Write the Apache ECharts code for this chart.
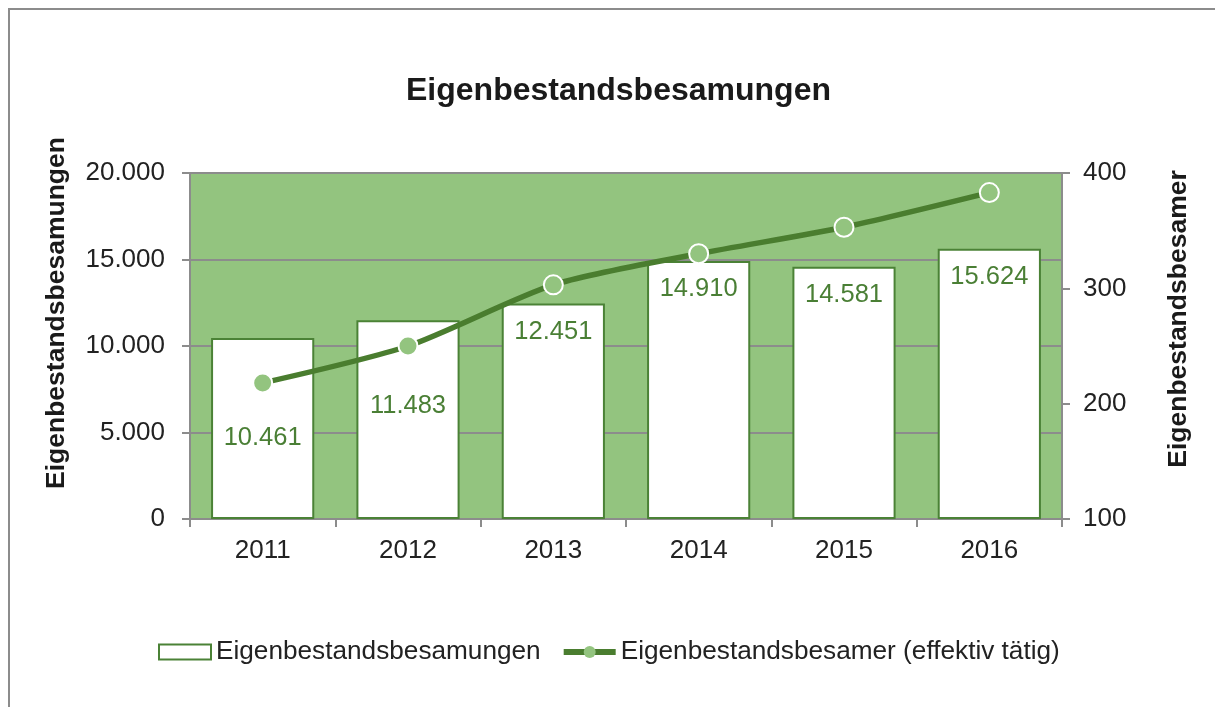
<!DOCTYPE html>
<html>
<head>
<meta charset="utf-8">
<script src="https://cdn.jsdelivr.net/npm/echarts@6/dist/echarts.min.js"></script>
<style>
html,body{margin:0;padding:0;background:#fff;}
#chart{width:1215px;height:707px;}
</style>
</head>
<body>
<div id="chart"></div>
<script>
const titleText = 'Eigenbestandsbesamungen';
const categories = ['2011', '2012', '2013', '2014', '2015', '2016'];
const besamungen = [10461, 11483, 12451, 14910, 14581, 15624];
const besamer = [218, 250, 303, 330, 353, 383];
const seriesNames = ['Eigenbestandsbesamungen', 'Eigenbestandsbesamer (effektiv tätig)'];
const leftAxisName = 'Eigenbestandsbesamungen';
const rightAxisName = 'Eigenbestandsbesamer';
// label adjustments (manual placement, as in the reference)
const labelShift = [72, 58, 0, 0, 0, 0];

const FONT = '"Liberation Sans", Arial, sans-serif';
const fmt = v => String(v).replace(/\B(?=(\d{3})+(?!\d))/g, '.');

const chart = echarts.init(document.getElementById('chart'), null, {renderer: 'canvas'});
chart.setOption({
  animation: false,
  backgroundColor: '#ffffff',
  textStyle: {fontFamily: FONT},
  graphic: [{
    type: 'rect', silent: true,
    shape: {x: 9, y: 9, width: 1400, height: 1000},
    style: {fill: 'none', stroke: '#8c8c8c', lineWidth: 2}
  }],
  title: {
    text: titleText, left: 401, top: 70,
    textStyle: {fontFamily: FONT, fontSize: 32, fontWeight: 'bold', color: '#1a1a1a'}
  },
  legend: {
    left: 153, top: 634,
    itemWidth: 52, itemHeight: 15, itemGap: 20,
    textStyle: {fontFamily: FONT, fontSize: 26.2, color: '#222'},
    data: [
      {name: seriesNames[0], icon: 'rect', itemStyle: {color: '#fff', borderColor: '#4b8236', borderWidth: 2}},
      {name: seriesNames[1], lineStyle: {width: 6, color: '#4a7d2f'}, itemStyle: {color: '#93c47f', borderWidth: 0}}
    ]
  },
  grid: {
    left: 190, right: 153, top: 173, bottom: 188,
    show: true, backgroundColor: '#93c47f', borderWidth: 0
  },
  xAxis: {
    type: 'category', data: categories,
    axisLine: {lineStyle: {color: '#8c8c8c', width: 2}},
    axisTick: {show: true, length: 8, lineStyle: {color: '#8c8c8c', width: 2}},
    axisLabel: {fontFamily: FONT, fontSize: 26, color: '#222', margin: 19}
  },
  yAxis: [{
    type: 'value', min: 0, max: 20000, interval: 5000,
    name: leftAxisName, nameLocation: 'middle', nameGap: 120, nameRotate: 90,
    nameTextStyle: {fontFamily: FONT, fontSize: 26.5, fontWeight: 'bold', color: '#1a1a1a', padding: [0, 0, 0, 66]},
    axisLine: {show: true, lineStyle: {color: '#8c8c8c', width: 2}},
    axisTick: {show: true, length: 8, lineStyle: {color: '#8c8c8c', width: 2}},
    axisLabel: {fontFamily: FONT, fontSize: 26, color: '#222', margin: 25, formatter: fmt},
    splitLine: {show: true, lineStyle: {color: '#8c8c8c', width: 2}}
  }, {
    type: 'value', min: 100, max: 400, interval: 100, position: 'right',
    name: rightAxisName, nameLocation: 'middle', nameGap: 103, nameRotate: 90,
    nameTextStyle: {fontFamily: FONT, fontSize: 26.5, fontWeight: 'bold', color: '#1a1a1a', padding: [0, 0, 0, 54]},
    axisLine: {show: true, lineStyle: {color: '#8c8c8c', width: 2}},
    axisTick: {show: true, length: 8, lineStyle: {color: '#8c8c8c', width: 2}},
    axisLabel: {fontFamily: FONT, fontSize: 26, color: '#222', margin: 21},
    splitLine: {show: false}
  }],
  series: [{
    name: seriesNames[0], type: 'bar', yAxisIndex: 0, barWidth: '71%',
    itemStyle: {color: '#ffffff', borderColor: '#4b8236', borderWidth: 2},
    label: {
      show: true, position: 'insideTop', distance: 15,
      fontFamily: FONT, fontSize: 25.5, color: '#4a7f35',
      formatter: p => fmt(p.value)
    },
    data: besamungen.map((v, i) => ({value: v, label: {offset: [0, labelShift[i]]}})),
    z: 2
  }, {
    name: seriesNames[1], type: 'line', yAxisIndex: 1, smooth: 0.25,
    symbol: 'circle', symbolSize: 19,
    lineStyle: {color: '#4a7d2f', width: 5.5},
    itemStyle: {color: '#93c47f', borderColor: '#ffffff', borderWidth: 2},
    data: besamer,
    z: 3
  }]
});
</script>
</body>
</html>
